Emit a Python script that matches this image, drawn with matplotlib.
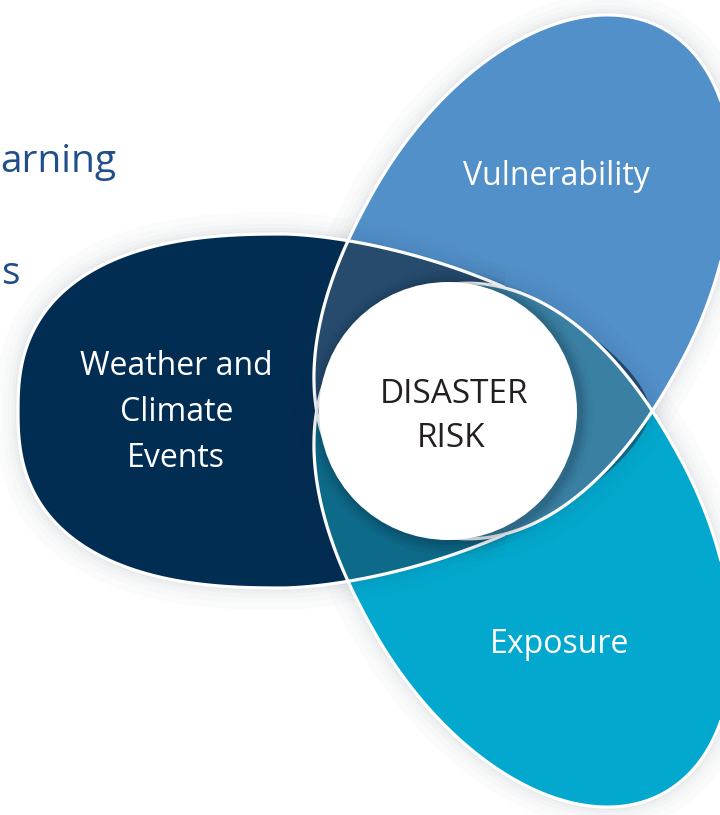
import numpy as np
import matplotlib
matplotlib.use("Agg")
import matplotlib.pyplot as plt
from matplotlib.patches import Polygon, Circle, PathPatch, Rectangle
from matplotlib.path import Path

# ---------------- data ----------------
petal_labels = ["Weather and\nClimate\nEvents", "Vulnerability", "Exposure"]
petal_colors = ["#022d53", "#5190c8", "#02a8ce"]
overlap_pairs = [(0, 1), (0, 2), (1, 2)]
overlap_colors = ["#264b6d", "#0e6a89", "#3a80a3"]
center_label = "DISASTER\nRISK"
side_labels = ["arning", "s"]
side_color = "#1f4e8a"
label_color = "white"
center_color = "#231f20"

# ---------------- layout ----------------
W, H = 720, 815
fig = plt.figure(figsize=(7.2, 8.15), dpi=100)
ax = fig.add_axes([0, 0, 1, 1])
ax.set_xlim(0, W)
ax.set_ylim(H, 0)
ax.axis("off")

O = (448.0, 411.0)


def petal(angle, uc, a_far, n_far, a_near, n_near, b, off, grow=0.0, npts=700):
    t = np.linspace(0, 2 * np.pi, npts)
    c, s = np.cos(t), np.sin(t)
    far = c >= 0
    a = np.where(far, a_far, a_near) + grow
    n = np.where(far, n_far, n_near)
    u = uc + a * np.sign(c) * np.abs(c) ** (2 / n)
    v = (b + grow) * np.sign(s) * np.abs(s) ** (2 / n) + off
    th = np.radians(angle)
    X = u * np.cos(th) - v * np.sin(th)
    Y = u * np.sin(th) + v * np.cos(th)
    return np.column_stack([O[0] + X, O[1] - Y])


# (axis angle, centre along axis, far half-length, far exponent,
#  near half-length, near exponent, half-width, sideways offset)
params = [
    (180, 165, 265, 2.5, 367, 1.62, 177, 0),
    (61.2, 150.8, 288, 2.0, 270, 2.3, 176, -4.8),
    (-61.2, 150.8, 288, 2.0, 270, 2.3, 176, 4.8),
]
shapes = [petal(*p) for p in params]


def ring(p, k0, k1):
    outer = petal(*p, grow=k1)
    inner = petal(*p, grow=k0)[::-1]
    verts = np.vstack([outer, outer[:1], inner, inner[:1]])
    codes = ([Path.MOVETO] + [Path.LINETO] * (len(outer) - 1) + [Path.CLOSEPOLY]
             + [Path.MOVETO] + [Path.LINETO] * (len(inner) - 1) + [Path.CLOSEPOLY])
    return Path(verts, codes)


# base fills
for pts, col in zip(shapes, petal_colors):
    ax.add_patch(Polygon(pts, closed=True, facecolor=col, edgecolor="none", zorder=2))

# overlaps
for (i, j), col in zip(overlap_pairs, overlap_colors):
    clip = Polygon(shapes[i], closed=True, transform=ax.transData)
    p = Polygon(shapes[j], closed=True, facecolor=col, edgecolor="none", zorder=3)
    ax.add_patch(p)
    p.set_clip_path(clip)

# soft shadows cast outside every petal (onto background and neighbours)
for k, p in enumerate(params):
    for k0, k1, al in [(0, 3, 0.10), (3, 6, 0.07), (6, 10, 0.05),
                       (10, 15, 0.03), (15, 22, 0.015)]:
        sh = PathPatch(ring(p, k0, k1), facecolor="#1b2a3f",
                       edgecolor="none", alpha=al, zorder=3.5)
        ax.add_patch(sh)
        if k == 0:
            sh.set_clip_path(Rectangle((0, 0), 505, H, transform=ax.transData))

# white outlines (the left petal's tip is hidden inside the central lens)
for k, pts in enumerate(shapes):
    ol = Polygon(pts, closed=True, fill=False, edgecolor="white", lw=2.3, zorder=4)
    ax.add_patch(ol)
    if k == 0:
        ol.set_clip_path(Rectangle((0, 0), 505, H, transform=ax.transData))

# centre circle with soft shadow (slightly to the lower right)
cx, cy, r = 448, 411, 129
for dr, al in [(13, 0.04), (9, 0.05), (6, 0.07), (3, 0.09)]:
    ax.add_patch(Circle((cx + 3, cy + 2), r + dr, facecolor="#0a1a30",
                        edgecolor="none", alpha=al, zorder=5))
ax.add_patch(Circle((cx, cy), r, facecolor="white", edgecolor="none", zorder=6))

font = ["Open Sans", "DejaVu Sans"]
lab_kw = dict(color=label_color, fontsize=23, family=font, ha="center",
              va="baseline", zorder=7)

# petal labels
wl = petal_labels[0].split("\n")
ax.text(176, 375, wl[0], **lab_kw)
ax.text(177, 421, wl[1], **lab_kw)
ax.text(176, 467, wl[2], **lab_kw)
ax.text(556, 185, petal_labels[1], **lab_kw)
ax.text(560, 653, petal_labels[2], **lab_kw)

# centre label
cl = center_label.split("\n")
ax.text(454, 403, cl[0], color=center_color, fontsize=24, family=font,
        ha="center", va="baseline", zorder=7)
ax.text(451, 447, cl[1], color=center_color, fontsize=24, family=font,
        ha="center", va="baseline", zorder=7)

# side text (left margin)
ax.text(0, 172, side_labels[0], color=side_color, fontsize=28, family=font,
        ha="left", va="baseline", zorder=7)
ax.text(1, 284, side_labels[1], color=side_color, fontsize=28, family=font,
        ha="left", va="baseline", zorder=7)

fig.savefig("out.png", dpi=100)
